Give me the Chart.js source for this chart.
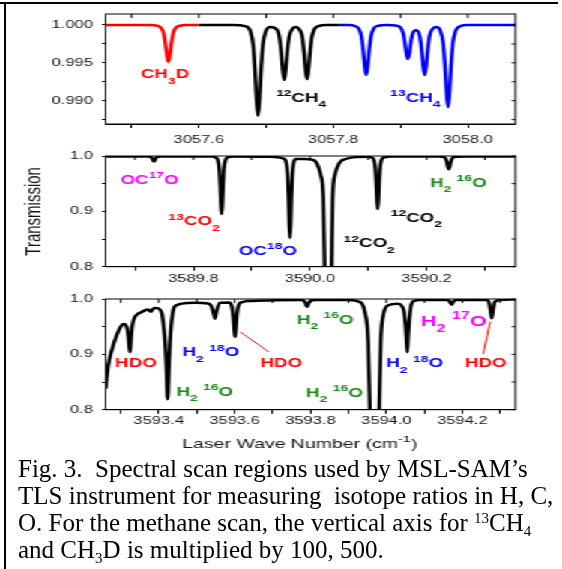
<!DOCTYPE html>
<html><head><meta charset="utf-8">
<script src="https://cdn.jsdelivr.net/npm/chart.js@4.4.1/dist/chart.umd.min.js"></script>
<style>
html,body{margin:0;padding:0;background:#fff;}
body{width:562px;height:569px;position:relative;overflow:hidden;}
#stretch{position:absolute;left:0;top:0;width:375px;height:460px;transform:scaleX(1.4987);transform-origin:0 0;}
#stretch canvas{position:absolute;left:0;}
.frameTop{position:absolute;left:0;top:2px;width:558px;height:2px;background:#000;}
.frameLeft{position:absolute;left:4px;top:2px;width:2px;height:567px;background:#000;}
#caption{position:absolute;left:18px;top:454.7px;font-family:'Liberation Serif','Times New Roman',serif;font-size:25px;line-height:27.2px;color:#000;white-space:pre;}
.sup{font-size:15px;position:relative;top:-8px;line-height:0;}
.sub{font-size:15px;position:relative;top:5px;line-height:0;}
</style></head>
<body>
<div id="stretch">
<canvas id="c1" width="375" height="150" style="top:0px"></canvas>
<canvas id="c2" width="375" height="146" style="top:142px"></canvas>
<canvas id="c3" width="375" height="170" style="top:285px"></canvas>
</div>
<div class="frameTop"></div><div class="frameLeft"></div>
<div id="caption">Fig. 3.  Spectral scan regions used by MSL-SAM’s
TLS instrument for measuring  isotope ratios in H, C,
O. For the methane scan, the vertical axis for <span class="sup">13</span>CH<span class="sub">4</span>
and CH<span class="sub">3</span>D is multiplied by 100, 500.</div>
<script>
// ---------------- DATA ----------------
// Methane scan (top panel)
const ch3dWn = [3057.4613, 3057.500, 3057.530, 3057.5367, 3057.5434, 3057.5475, 3057.5502, 3057.5525, 3057.5547, 3057.5570, 3057.5592, 3057.5619, 3057.5660, 3057.5727, 3057.580, 3057.600];
const ch3dT  = [1.0, 1.0, 1.0, 0.99993, 0.99966, 0.99893, 0.99757, 0.99602, 0.99515, 0.99602, 0.99757, 0.99893, 0.99966, 0.99993, 1.0, 1.0];

const ch4Wn = [3057.600, 3057.650, 3057.670, 3057.6767, 3057.6808, 3057.6835, 3057.6858, 3057.688, 3057.6902, 3057.6925, 3057.6952, 3057.6993, 3057.706, 3057.7157, 3057.7198, 3057.7225, 3057.7248, 3057.727, 3057.7292, 3057.7315, 3057.7342, 3057.740, 3057.744, 3057.748, 3057.7539, 3057.7565, 3057.7588, 3057.761, 3057.7632, 3057.7655, 3057.7682, 3057.7723, 3057.779, 3057.790, 3057.808];
const ch4T  = [1.0, 1.0, 0.99982, 0.99916, 0.99736, 0.99399, 0.99014, 0.98798, 0.99014, 0.99399, 0.99736, 0.9991, 0.99974, 0.99942, 0.9984, 0.99636, 0.99404, 0.99273, 0.99404, 0.99636, 0.9984, 0.99956, 0.99974, 0.99956, 0.99842, 0.99641, 0.99412, 0.99283, 0.99412, 0.99641, 0.99842, 0.9995, 0.99989, 1.0, 1.0];

const c13Wn = [3057.808, 3057.825, 3057.831, 3057.8377, 3057.8418, 3057.8445, 3057.8468, 3057.849, 3057.8512, 3057.8535, 3057.8562, 3057.8603, 3057.867, 3057.880, 3057.893, 3057.8997, 3057.9038, 3057.9065, 3057.9088, 3057.911, 3057.9132, 3057.9155, 3057.9182, 3057.9235, 3057.9288, 3057.9315, 3057.9338, 3057.936, 3057.9382, 3057.9405, 3057.9432, 3057.9473, 3057.9535, 3057.9594, 3057.9635, 3057.9662, 3057.9685, 3057.9707, 3057.9729, 3057.9752, 3057.9779, 3057.982, 3057.9887, 3058.000, 3058.071];
const c13T  = [1.0, 1.0, 0.9999, 0.99954, 0.99855, 0.9967, 0.99458, 0.99339, 0.99458, 0.9967, 0.99855, 0.99954, 0.9999, 1.0, 0.99993, 0.99969, 0.99896, 0.99768, 0.99622, 0.99551, 0.99625, 0.99775, 0.99891, 0.9993, 0.99848, 0.99665, 0.99455, 0.99339, 0.99458, 0.9967, 0.99855, 0.99944, 0.99972, 0.99919, 0.99761, 0.99456, 0.99109, 0.98913, 0.99109, 0.99456, 0.99761, 0.99924, 0.99984, 1.0, 1.0];

// Carbon dioxide scan (middle panel)
const co2Wn = [3589.649, 3589.700, 3589.722, 3589.7265, 3589.7295, 3589.7325, 3589.7355, 3589.7385, 3589.745, 3589.830, 3589.8385, 3589.84225, 3589.8445, 3589.846, 3589.84725, 3589.8485, 3589.84975, 3589.851, 3589.8525, 3589.85475, 3589.8585, 3589.870, 3589.930, 3589.9557, 3589.95945, 3589.9617, 3589.9632, 3589.96445, 3589.9657, 3589.96695, 3589.9682, 3589.9697, 3589.97195, 3589.9757, 3589.990, 3590.0029, 3590.0115, 3590.0183, 3590.0229, 3590.0252, 3590.028, 3590.0312, 3590.0345, 3590.0372, 3590.0389, 3590.0429, 3590.0503, 3590.063, 3590.080, 3590.100, 3590.1061, 3590.10985, 3590.1121, 3590.1136, 3590.11485, 3590.1161, 3590.11735, 3590.1186, 3590.1201, 3590.12235, 3590.1261, 3590.140, 3590.220, 3590.226, 3590.2305, 3590.2332, 3590.235, 3590.2365, 3590.238, 3590.2395, 3590.241, 3590.2428, 3590.2455, 3590.250, 3590.270, 3590.353];
const co2T  = [0.999, 0.999, 0.999, 0.9985, 0.9958, 0.990, 0.9958, 0.9985, 0.999, 0.999, 0.9974, 0.9917, 0.9762, 0.9471, 0.9139, 0.8952, 0.9139, 0.9471, 0.9762, 0.9917, 0.9974, 0.999, 0.9985, 0.9948, 0.9868, 0.9651, 0.9244, 0.8779, 0.8518, 0.8779, 0.9244, 0.9651, 0.9868, 0.9945, 0.9945, 0.9934, 0.9874, 0.9663, 0.924, 0.80, 0.6, 0.5, 0.6, 0.80, 0.924, 0.9663, 0.9874, 0.995, 0.998, 0.9985, 0.9971, 0.9919, 0.9778, 0.9514, 0.9212, 0.9042, 0.9212, 0.9514, 0.9778, 0.9919, 0.9971, 0.999, 0.999, 0.9987, 0.9974, 0.9939, 0.9875, 0.9801, 0.976, 0.9801, 0.9875, 0.9939, 0.9974, 0.9987, 0.999, 0.999];

// Water scan (bottom panel)
const h2oWn = [3593.260, 3593.267, 3593.276, 3593.289, 3593.302, 3593.308, 3593.314, 3593.317, 3593.320, 3593.322, 3593.324, 3593.326, 3593.328, 3593.331, 3593.337, 3593.345, 3593.355, 3593.365, 3593.372, 3593.379, 3593.385, 3593.390, 3593.397, 3593.403, 3593.409, 3593.413, 3593.417, 3593.420, 3593.4235, 3593.427, 3593.430, 3593.434, 3593.441, 3593.450, 3593.460, 3593.495, 3593.530, 3593.538, 3593.543, 3593.546, 3593.548, 3593.550, 3593.553, 3593.561, 3593.585, 3593.592, 3593.596, 3593.599, 3593.601, 3593.603, 3593.606, 3593.611, 3593.620, 3593.636, 3593.706, 3593.775, 3593.782, 3593.787, 3593.791, 3593.795, 3593.800, 3593.815, 3593.900, 3593.930, 3593.943, 3593.952, 3593.9565, 3593.962, 3593.969, 3593.976, 3593.981, 3593.985, 3593.9916, 3594.0047, 3594.031, 3594.040, 3594.046, 3594.050, 3594.0525, 3594.0548, 3594.057, 3594.060, 3594.064, 3594.0706, 3594.090, 3594.160, 3594.166, 3594.1718, 3594.177, 3594.185, 3594.265, 3594.270, 3594.274, 3594.2775, 3594.281, 3594.285, 3594.295, 3594.340];
const h2oT  = [0.838, 0.880, 0.907, 0.934, 0.952, 0.955, 0.952, 0.946, 0.932, 0.917, 0.904, 0.918, 0.938, 0.955, 0.9675, 0.973, 0.9765, 0.980, 0.981, 0.977, 0.982, 0.9837, 0.9835, 0.981, 0.972, 0.950, 0.920, 0.880, 0.8187, 0.880, 0.925, 0.960, 0.9855, 0.9895, 0.9916, 0.993, 0.992, 0.988, 0.978, 0.970, 0.9645, 0.970, 0.980, 0.9934, 0.9935, 0.988, 0.970, 0.945, 0.9313, 0.945, 0.972, 0.990, 0.9945, 0.9964, 0.9976, 0.998, 0.997, 0.992, 0.9855, 0.992, 0.997, 0.998, 0.998, 0.9946, 0.9765, 0.922, 0.80, 0.6, 0.5, 0.6, 0.80, 0.922, 0.9705, 0.9886, 0.9916, 0.988, 0.978, 0.955, 0.930, 0.904, 0.930, 0.960, 0.985, 0.996, 0.998, 0.998, 0.996, 0.9897, 0.996, 0.998, 0.998, 0.994, 0.980, 0.965, 0.980, 0.994, 0.998, 0.999];

// Tick values and labels
const topXTicks = [3057.5, 3057.6, 3057.7, 3057.8, 3057.9, 3058.0];
const topXLabels = ['', '3057.6', '', '3057.8', '', '3058.0'];
const topYTicks = [0.9875, 0.990, 0.9925, 0.995, 0.9975, 1.000];
const topYLabels = ['', '0.990', '', '0.995', '', '1.000'];
const midXTicks = [3589.7, 3589.8, 3589.9, 3590.0, 3590.1, 3590.2, 3590.3];
const midXLabels = ['', '3589.8', '', '3590.0', '', '3590.2', ''];
const botXTicks = [3593.3, 3593.4, 3593.5, 3593.6, 3593.7, 3593.8, 3593.9, 3594.0, 3594.1, 3594.2, 3594.3];
const botXLabels = ['', '3593.4', '', '3593.6', '', '3593.8', '', '3594.0', '', '3594.2', ''];
const transYTicks = [0.8, 0.85, 0.9, 0.95, 1.0];
const transYLabels = ['0.8', '', '0.9', '', '1.0'];

// ---------------- RENDERING ----------------
const FONT = "'Liberation Sans', Arial, Helvetica, sans-serif";
const RED = '#ff0000', BLUE = '#0000ff', GREEN = '#1a8a1a', MAG = '#ff00ff', BLK = '#000000';
const TXT = '#151515';

function richParts(s){ return s.match(/\^[-\d]+|_\d+|[^\^_]+/g); }
function drawRich(ctx, s, x, y, size, color, bold, doDraw){
  let cx = x;
  ctx.fillStyle = color; ctx.textBaseline = 'alphabetic'; ctx.textAlign = 'left';
  for (const p of richParts(s)) {
    let t = p, sz = size, dy = 0;
    if (p[0] === '^') { t = p.slice(1); sz = size * 0.75; dy = -size * 0.45; }
    else if (p[0] === '_') { t = p.slice(1); sz = size * 0.75; dy = size * 0.42; }
    ctx.font = (bold ? 'bold ' : '') + sz + 'px ' + FONT;
    if (doDraw) ctx.fillText(t, cx, y + dy);
    cx += ctx.measureText(t).width;
  }
  return cx - x;
}

const richLabels = {
  id: 'richLabels',
  afterDatasetsDraw(chart, args, opts) {
    const {ctx} = chart; const x = chart.scales.x, y = chart.scales.y;
    ctx.save();
    (opts.lines || []).forEach(l => {
      ctx.strokeStyle = l.color; ctx.lineWidth = 1;
      ctx.beginPath();
      ctx.moveTo(x.getPixelForValue(l.x1), y.getPixelForValue(l.y1));
      ctx.lineTo(x.getPixelForValue(l.x2), y.getPixelForValue(l.y2));
      ctx.stroke();
    });
    (opts.items || []).forEach(it => {
      drawRich(ctx, it.text, x.getPixelForValue(it.x), y.getPixelForValue(it.y), it.size || 12.5, it.color, true, true);
    });
    ctx.restore();
  }
};

const frame = {
  id: 'frame',
  afterDraw(chart, args, opts) {
    const {ctx, chartArea: a} = chart; const x = chart.scales.x, y = chart.scales.y;
    ctx.save();
    ctx.strokeStyle = '#000'; ctx.lineWidth = 1;
    ctx.strokeRect(a.left, a.top, a.right - a.left, a.bottom - a.top);
    ctx.beginPath();
    x.ticks.forEach(t => { const px = x.getPixelForValue(t.value); ctx.moveTo(px, a.top); ctx.lineTo(px, a.top + 4); });
    y.ticks.forEach(t => { const py = y.getPixelForValue(t.value); ctx.moveTo(a.right, py); ctx.lineTo(a.right - 2.5, py); });
    ctx.stroke();
    if (opts && opts.title) {
      const w = drawRich(ctx, opts.title, 0, 0, 13, TXT, false, false);
      const cx = a.left + opts.frac * (a.right - a.left);
      drawRich(ctx, opts.title, cx - w / 2, a.bottom + opts.dy, 13, TXT, false, true);
    }
    ctx.restore();
  }
};

function pts(xs, ys){ return xs.map((v, i) => ({x: v, y: ys[i]})); }
function line(data, color){
  return {data, borderColor: color, borderWidth: 2.5, pointRadius: 0, fill: false, cubicInterpolationMode: 'monotone'};
}

function makeChart(id, datasets, cfg){
  return new Chart(document.getElementById(id), {
    type: 'line',
    data: {datasets},
    plugins: [richLabels, frame],
    options: {
      responsive: false, animation: false, devicePixelRatio: 1,
      layout: {padding: {top: 14, right: 31.1, left: 0, bottom: 0}},
      plugins: {legend: {display: false}, tooltip: {enabled: false},
        richLabels: {items: cfg.items, lines: cfg.lines || []},
        frame: cfg.frame || {}},
      scales: {
        x: {type: 'linear', min: cfg.xr[0], max: cfg.xr[1], position: 'bottom', offset: false,
          grid: {display: true, drawOnChartArea: false, drawTicks: true, tickLength: 4, color: '#000', lineWidth: 1},
          border: {display: true, color: '#000', width: 1},
          ticks: {autoSkip: false, maxRotation: 0, minRotation: 0, padding: cfg.xPad, color: TXT,
            font: {family: FONT, size: 11}, callback: (v, i) => cfg.xl[i]},
          afterBuildTicks: s => { s.ticks = cfg.xt.map(v => ({value: v})); },
          afterFit: s => { s.height = cfg.xH; }
        },
        y: {type: 'linear', min: cfg.yr[0], max: cfg.yr[1], position: 'left',
          grid: {display: true, drawOnChartArea: false, drawTicks: true, tickLength: 2.5, color: '#000', lineWidth: 1},
          border: {display: true, color: '#000', width: 1},
          title: cfg.yTitle ? {display: true, text: cfg.yTitle, color: TXT, font: {family: FONT, size: 15}, padding: {top: 14.2, bottom: 0}} : {display: false},
          ticks: {autoSkip: false, padding: 6, color: TXT, font: {family: FONT, size: 11}, callback: (v, i) => cfg.yl[i]},
          afterBuildTicks: s => { s.ticks = cfg.yt.map(v => ({value: v})); },
          afterFit: s => { s.width = 70.5; }
        }
      }
    }
  });
}

makeChart('c1', [line(pts(ch3dWn, ch3dT), RED), line(pts(ch4Wn, ch4T), BLK), line(pts(c13Wn, c13T), BLUE)], {
  xr: [3057.4613, 3058.071], yr: [0.98692, 1.001453], xt: topXTicks, xl: topXLabels, yt: topYTicks, yl: topYLabels,
  xH: 26, xPad: 5,
  items: [
    {text: 'CH_3D', x: 3057.5138, y: 0.99296, color: RED},
    {text: '^12CH_4', x: 3057.7147, y: 0.98989, color: BLK},
    {text: '^13CH_4', x: 3057.8844, y: 0.98989, color: BLUE}
  ]
});

makeChart('c2', [line(pts(co2Wn, co2T), BLK)], {
  xr: [3589.6496, 3590.3523], yr: [0.8, 1.0], xt: midXTicks, xl: midXLabels, yt: transYTicks, yl: transYLabels,
  xH: 21.3, xPad: 2, yTitle: 'Transmission',
  items: [
    {text: 'OC^17O', x: 3589.675, y: 0.9494, color: MAG},
    {text: '^13CO_2', x: 3589.757, y: 0.8748, color: RED},
    {text: 'OC^18O', x: 3589.878, y: 0.8211, color: BLUE},
    {text: '^12CO_2', x: 3590.0575, y: 0.835, color: BLK},
    {text: '^12CO_2', x: 3590.1384, y: 0.8813, color: BLK},
    {text: 'H_2 ^16O', x: 3590.2058, y: 0.9445, color: GREEN}
  ]
});

makeChart('c3', [line(pts(h2oWn, h2oT), BLK)], {
  xr: [3593.260, 3594.340], yr: [0.8, 1.0], xt: botXTicks, xl: botXLabels, yt: transYTicks, yl: transYLabels,
  xH: 45.3, xPad: 1,
  frame: {title: 'Laser Wave Number (cm^-1)', frac: 0.474, dy: 38},
  items: [
    {text: 'HDO', x: 3593.2851, y: 0.878, color: RED},
    {text: 'H_2 ^16O', x: 3593.4466, y: 0.8247, color: GREEN},
    {text: 'H_2 ^18O', x: 3593.4625, y: 0.8965, color: BLUE},
    {text: 'HDO', x: 3593.6682, y: 0.8777, color: RED},
    {text: 'H_2 ^16O', x: 3593.7642, y: 0.9557, color: GREEN},
    {text: 'H_2 ^16O', x: 3593.7887, y: 0.8235, color: GREEN},
    {text: 'H_2 ^18O', x: 3594.000, y: 0.8766, color: BLUE},
    {text: 'H_2 ^17O', x: 3594.0909, y: 0.9512, color: MAG, size: 14.5},
    {text: 'HDO', x: 3594.2068, y: 0.8766, color: RED}
  ],
  lines: [
    {x1: 3593.6153, y1: 0.9404, x2: 3593.6904, y2: 0.9042, color: RED},
    {x1: 3594.2735, y1: 0.959, x2: 3594.2548, y2: 0.9006, color: RED}
  ]
});
</script>
</body></html>
